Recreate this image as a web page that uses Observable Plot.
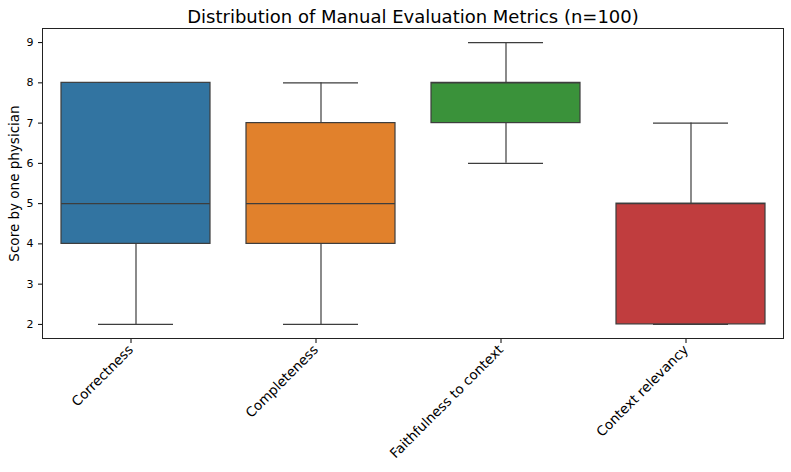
<!DOCTYPE html>
<html><head><meta charset="utf-8">
<script src="https://cdn.jsdelivr.net/npm/d3@7"></script>
<script src="https://cdn.jsdelivr.net/npm/@observablehq/plot@0.6"></script>
<style>body{margin:0;background:#fff;font-family:"DejaVu Sans",sans-serif;}</style>
</head><body><div id="chart"></div>
<script>
const categories = ["Correctness", "Completeness", "Faithfulness to context", "Context relevancy"];
const mins = [2, 2, 6, 2];
const q1s = [4, 4, 7, 2];
const medians = [5, 5, 8, 5];
const q3s = [8, 7, 8, 5];
const maxs = [8, 8, 9, 7];
const colors = ["#3274a1", "#e1812c", "#3a923a", "#c03d3e"];
const yTicks = [2, 3, 4, 5, 6, 7, 8, 9];
const title = "Distribution of Manual Evaluation Metrics (n=100)";
const yLabel = "Score by one physician";

const data = categories.map((c, i) => ({cat: c, min: mins[i], q1: q1s[i], med: medians[i], q3: q3s[i], max: maxs[i], color: colors[i]}));
const lineColor = "#3d3d3d";

const plot = Plot.plot({
  width: 791, height: 472,
  marginTop: 28, marginLeft: 42, marginRight: 8, marginBottom: 134,
  style: {fontFamily: "DejaVu Sans, sans-serif", fontSize: "11px", color: "#000"},
  x: {domain: categories, padding: 0, label: null},
  y: {domain: [1.65, 9.35], label: null},
  marks: [
    Plot.ruleX(data, {x: "cat", y1: "min", y2: "q1", stroke: lineColor, strokeWidth: 1.2}),
    Plot.ruleX(data, {x: "cat", y1: "q3", y2: "max", stroke: lineColor, strokeWidth: 1.2}),
    Plot.tickY(data, {x: "cat", y: "min", stroke: lineColor, strokeWidth: 1.2, insetLeft: 55, insetRight: 55}),
    Plot.tickY(data, {x: "cat", y: "max", stroke: lineColor, strokeWidth: 1.2, insetLeft: 55, insetRight: 55}),
    Plot.barY(data, {x: "cat", y1: "q1", y2: "q3", fill: "color", stroke: lineColor, strokeWidth: 1.2, insetLeft: 18, insetRight: 18}),
    Plot.tickY(data, {x: "cat", y: "med", stroke: lineColor, strokeWidth: 1.2, insetLeft: 18, insetRight: 18}),
    Plot.frame({stroke: "#222", strokeWidth: 1}),
    Plot.axisY({ticks: yTicks, tickFormat: d => String(d), tickSize: 4, fontSize: 11, label: null}),
    Plot.axisX({tickSize: 4, tickRotate: -45, fontSize: 13.5, label: null, tickPadding: 4, dx: -5, dy: 1}),
    Plot.text([yLabel], {frameAnchor: "left", dx: -28, rotate: -90, textAnchor: "middle", fontSize: 13.5, text: d => d}),
    Plot.text([title], {frameAnchor: "top", lineAnchor: "bottom", dy: -6, fontSize: 18, text: d => d})
  ]
});
document.getElementById("chart").appendChild(plot);
</script>
</body></html>
